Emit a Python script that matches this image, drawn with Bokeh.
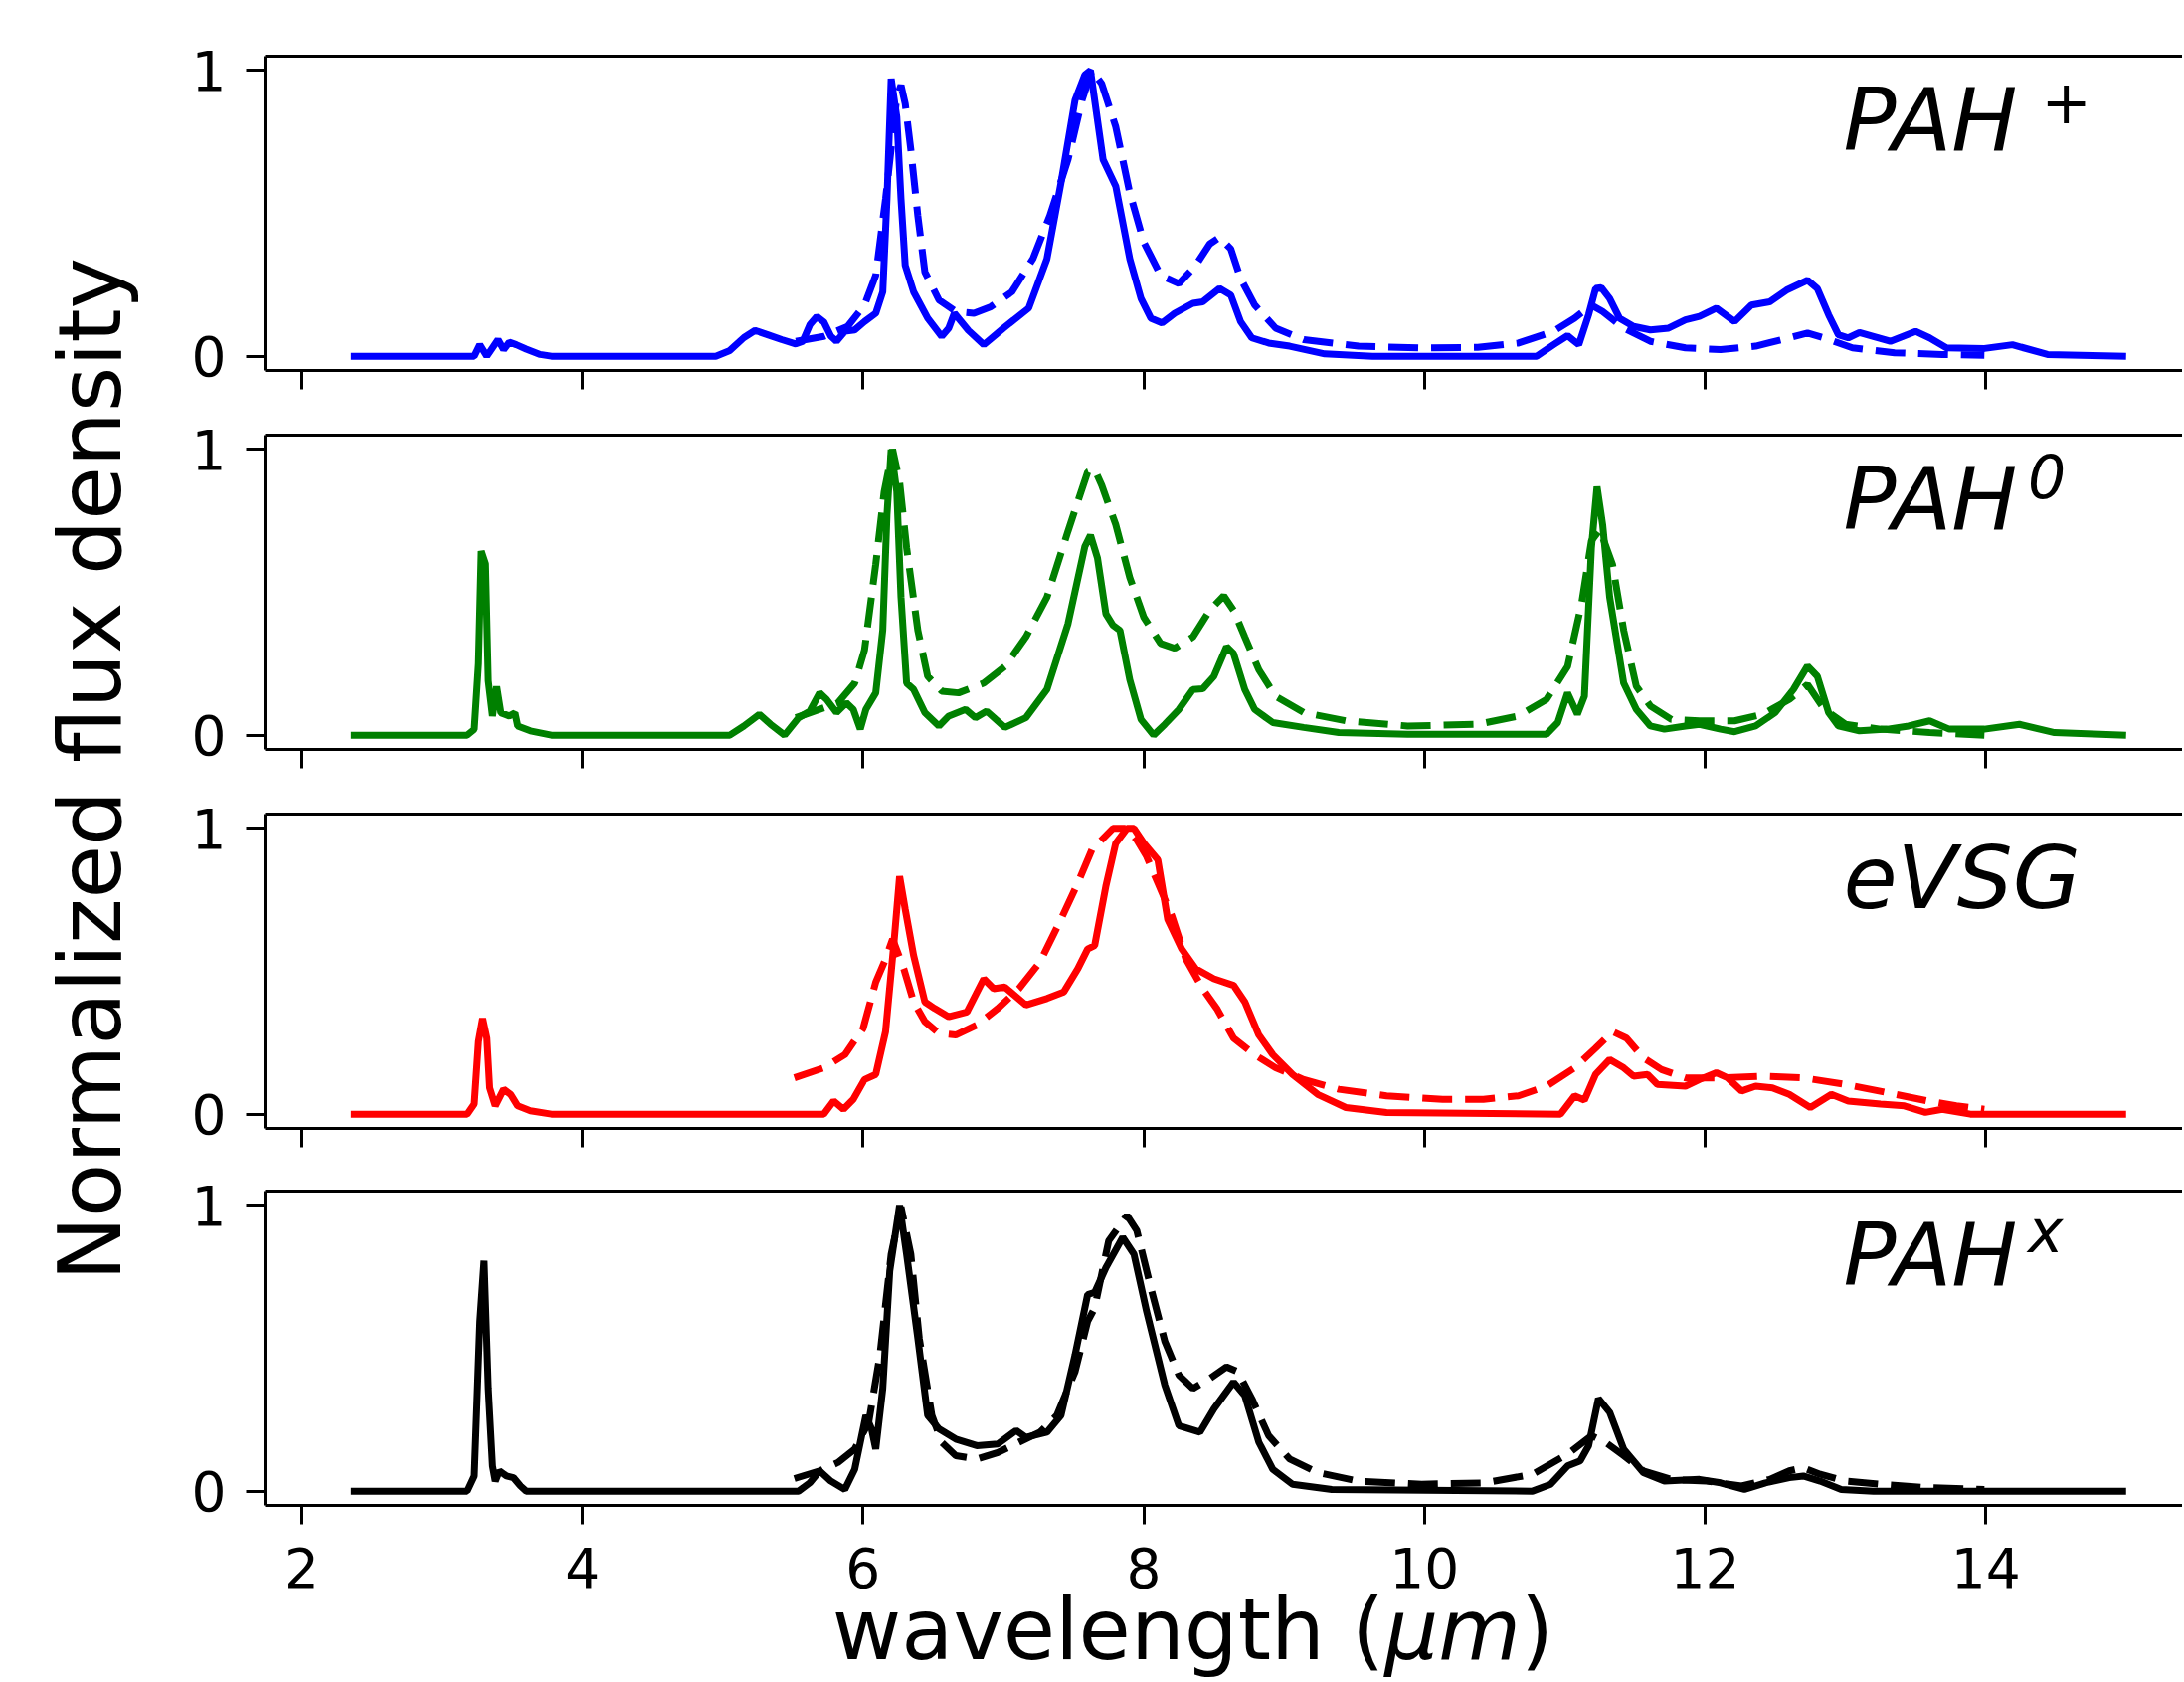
import math
from bokeh.plotting import figure
from bokeh.models import Range1d, FixedTicker, LinearAxis, Label, CustomJSTickFormatter
from bokeh.layouts import row, column
from bokeh.core.properties import value
from bokeh.embed import file_html
from bokeh.resources import INLINE

# ---------------- data ----------------
x_ticks = [2, 4, 6, 8, 10, 12, 14]
y_ticks = [0, 1]
x_label_parts = ["wavelength (", "\u03bcm", ")"]
y_label = "Normalized flux density"

# PAH+ (blue)
pahp_solid_x = [2.35, 3.23, 3.27, 3.32, 3.40, 3.44, 3.48, 3.53, 3.60, 3.70, 3.78, 4.95, 5.05, 5.15, 5.23, 5.32,
                5.42, 5.52, 5.57, 5.62, 5.67, 5.72, 5.77, 5.81, 5.87, 5.94, 6.01, 6.09, 6.14, 6.17, 6.20, 6.24,
                6.27, 6.30, 6.36, 6.46, 6.56, 6.61, 6.65, 6.75, 6.86, 7.00, 7.18, 7.31, 7.41, 7.51, 7.58, 7.62,
                7.71, 7.80, 7.90, 7.98, 8.05, 8.13, 8.22, 8.35, 8.42, 8.54, 8.62, 8.69, 8.77, 8.89, 9.04, 9.29,
                9.63, 10.80, 10.92, 11.02, 11.10, 11.17, 11.22, 11.26, 11.32, 11.39, 11.49, 11.61, 11.74, 11.86,
                11.96, 12.08, 12.21, 12.33, 12.46, 12.58, 12.73, 12.80, 12.88, 12.95, 13.02, 13.10, 13.20, 13.32,
                13.50, 13.60, 13.72, 13.99, 14.19, 14.44, 15.00]
pahp_solid_y = [0.0, 0.0, 0.04, 0.0, 0.058, 0.023, 0.049, 0.04, 0.025, 0.006, 0.0, 0.0, 0.02, 0.065, 0.09, 0.075,
                0.058, 0.043, 0.052, 0.11, 0.139, 0.12, 0.07, 0.052, 0.087, 0.092, 0.121, 0.15, 0.225, 0.55, 0.971, 0.838,
                0.55, 0.318, 0.225, 0.133, 0.069, 0.098, 0.15, 0.09, 0.04, 0.098, 0.168, 0.341, 0.607, 0.896, 0.985, 1.0,
                0.688, 0.595, 0.341, 0.202, 0.133, 0.116, 0.15, 0.185, 0.19, 0.237, 0.214, 0.121, 0.064, 0.046, 0.035, 0.008,
                0.0, 0.0, 0.04, 0.072, 0.04, 0.145, 0.237, 0.24, 0.202, 0.133, 0.104, 0.092, 0.098, 0.127,
                0.139, 0.168, 0.121, 0.179, 0.19, 0.231, 0.266, 0.237, 0.145, 0.075, 0.064, 0.083, 0.069, 0.052,
                0.087, 0.064, 0.029, 0.027, 0.04, 0.006, 0.0]
pahp_dash_x = [5.52, 5.72, 5.89, 6.01, 6.09, 6.16, 6.24, 6.27, 6.30, 6.34, 6.39, 6.44, 6.54, 6.66, 6.79, 6.91,
               7.06, 7.21, 7.33, 7.46, 7.56, 7.63, 7.70, 7.80, 7.90, 8.00, 8.12, 8.25, 8.37, 8.47, 8.54, 8.62,
               8.69, 8.79, 8.94, 9.14, 9.53, 9.98, 10.38, 10.67, 10.92, 11.07, 11.19, 11.27, 11.42, 11.61, 11.86,
               12.11, 12.36, 12.55, 12.73, 12.85, 13.05, 13.35, 13.69, 13.99]
pahp_dash_y = [0.052, 0.069, 0.104, 0.179, 0.283, 0.55, 0.907, 0.948, 0.884, 0.723, 0.491, 0.295, 0.197, 0.156, 0.15, 0.173,
               0.225, 0.341, 0.491, 0.688, 0.896, 1.0, 0.954, 0.803, 0.572, 0.399, 0.283, 0.254, 0.318, 0.393, 0.416, 0.376,
               0.272, 0.179, 0.098, 0.058, 0.035, 0.029, 0.031, 0.046, 0.087, 0.133, 0.179, 0.156, 0.098, 0.052, 0.029,
               0.023, 0.035, 0.058, 0.081, 0.064, 0.029, 0.012, 0.006, 0.003]

# PAH0 (green)
pah0_solid_x = [2.35, 3.18, 3.23, 3.26, 3.28, 3.31, 3.33, 3.36, 3.39, 3.42, 3.48, 3.52, 3.54, 3.63, 3.78, 5.05,
                5.15, 5.26, 5.34, 5.44, 5.54, 5.62, 5.69, 5.74, 5.81, 5.88, 5.93, 5.98, 6.02, 6.09, 6.14, 6.17,
                6.20, 6.24, 6.27, 6.31, 6.36, 6.44, 6.54, 6.61, 6.73, 6.80, 6.88, 7.01, 7.16, 7.31, 7.46, 7.58,
                7.62, 7.67, 7.73, 7.78, 7.83, 7.90, 7.98, 8.07, 8.15, 8.25, 8.35, 8.42, 8.50, 8.59, 8.64, 8.72,
                8.79, 8.92, 9.14, 9.39, 9.88, 10.87, 10.95, 11.02, 11.09, 11.14, 11.19, 11.23, 11.27, 11.32, 11.42,
                11.51, 11.61, 11.71, 11.86, 11.96, 12.11, 12.21, 12.36, 12.50, 12.63, 12.73, 12.80, 12.88, 12.95,
                13.10, 13.30, 13.45, 13.60, 13.74, 13.99, 14.24, 14.49, 15.00]
pah0_solid_y = [0.0, 0.0, 0.02, 0.25, 0.644, 0.6, 0.19, 0.067, 0.17, 0.078, 0.067, 0.078, 0.032, 0.015, 0.0, 0.0,
                0.032, 0.073, 0.038, 0.0, 0.061, 0.084, 0.148, 0.125, 0.079, 0.113, 0.09, 0.021, 0.09, 0.148, 0.367, 0.771,
                1.0, 0.852, 0.483, 0.182, 0.16, 0.079, 0.032, 0.067, 0.09, 0.061, 0.084, 0.027, 0.061, 0.16, 0.39, 0.66,
                0.70, 0.62, 0.425, 0.385, 0.367, 0.194, 0.055, 0.0, 0.038, 0.09, 0.16, 0.162, 0.206, 0.31, 0.286, 0.16,
                0.09, 0.044, 0.027, 0.009, 0.003, 0.003, 0.044, 0.148, 0.073, 0.136, 0.656, 0.87, 0.737, 0.483, 0.182,
                0.09, 0.032, 0.021, 0.032, 0.038, 0.021, 0.012, 0.032, 0.079, 0.16, 0.242, 0.206, 0.079, 0.032,
                0.015, 0.021, 0.032, 0.05, 0.021, 0.021, 0.038, 0.009, 0.0]
pah0_dash_x = [5.52, 5.82, 5.94, 6.01, 6.09, 6.15, 6.21, 6.26, 6.31, 6.39, 6.46, 6.56, 6.68, 6.86, 7.01, 7.16,
               7.31, 7.46, 7.60, 7.65, 7.70, 7.80, 7.90, 8.00, 8.12, 8.22, 8.35, 8.47, 8.57, 8.64, 8.72, 8.82,
               8.94, 9.14, 9.44, 9.88, 10.38, 10.67, 10.87, 11.02, 11.12, 11.19, 11.25, 11.34, 11.42, 11.51, 11.61,
               11.76, 11.96, 12.21, 12.41, 12.60, 12.73, 12.85, 13.00, 13.25, 13.60, 13.99]
pah0_dash_y = [0.061, 0.113, 0.182, 0.298, 0.598, 0.852, 1.0, 0.887, 0.656, 0.367, 0.206, 0.154, 0.148, 0.182, 0.24, 0.344,
               0.483, 0.714, 0.921, 0.93, 0.875, 0.737, 0.552, 0.413, 0.321, 0.304, 0.344, 0.437, 0.488, 0.437, 0.344, 0.229,
               0.136, 0.079, 0.05, 0.032, 0.038, 0.067, 0.125, 0.24, 0.46, 0.68, 0.72, 0.598, 0.367, 0.171, 0.102,
               0.055, 0.05, 0.05, 0.073, 0.125, 0.177, 0.09, 0.038, 0.021, 0.009, 0.0]

# eVSG (red)
evsg_solid_x = [2.35, 3.18, 3.23, 3.26, 3.29, 3.32, 3.34, 3.38, 3.44, 3.49, 3.54, 3.63, 3.78, 5.72, 5.79, 5.86,
                5.93, 6.01, 6.09, 6.16, 6.22, 6.26, 6.30, 6.36, 6.44, 6.51, 6.61, 6.74, 6.86, 6.93, 7.01, 7.16,
                7.31, 7.43, 7.53, 7.60, 7.65, 7.73, 7.80, 7.88, 7.93, 8.00, 8.10, 8.17, 8.27, 8.37, 8.50, 8.64,
                8.72, 8.82, 8.92, 9.06, 9.24, 9.44, 9.73, 10.97, 11.07, 11.14, 11.22, 11.32, 11.42, 11.49, 11.59,
                11.66, 11.86, 11.96, 12.08, 12.16, 12.26, 12.36, 12.48, 12.60, 12.75, 12.90, 13.02, 13.25, 13.42,
                13.57, 13.69, 13.89, 15.00]
evsg_solid_y = [0.0, 0.0, 0.035, 0.254, 0.335, 0.266, 0.092, 0.029, 0.087, 0.069, 0.029, 0.012, 0.0, 0.0, 0.046, 0.017,
                0.052, 0.121, 0.139, 0.289, 0.601, 0.832, 0.717, 0.555, 0.393, 0.37, 0.341, 0.358, 0.474, 0.439, 0.445, 0.382,
                0.405, 0.428, 0.509, 0.578, 0.59, 0.798, 0.948, 1.0, 1.0, 0.948, 0.89, 0.682, 0.578, 0.509, 0.474, 0.451,
                0.393, 0.277, 0.208, 0.139, 0.069, 0.023, 0.006, 0.0, 0.064, 0.049, 0.139, 0.191, 0.162, 0.133, 0.139,
                0.104, 0.098, 0.121, 0.145, 0.127, 0.081, 0.098, 0.092, 0.069, 0.023, 0.069, 0.046, 0.035, 0.029,
                0.006, 0.017, 0.0, 0.0]
evsg_dash_x = [5.51, 5.72, 5.87, 6.00, 6.09, 6.16, 6.21, 6.29, 6.36, 6.44, 6.54, 6.66, 6.81, 6.96, 7.11, 7.26,
               7.41, 7.53, 7.63, 7.70, 7.78, 7.88, 7.95, 8.02, 8.10, 8.20, 8.30, 8.42, 8.52, 8.64, 8.79, 8.94,
               9.14, 9.39, 9.73, 10.13, 10.42, 10.67, 10.87, 11.07, 11.22, 11.34, 11.44, 11.56, 11.69, 11.86, 12.11,
               12.41, 12.70, 13.00, 13.30, 13.59, 13.79, 13.99]
evsg_dash_y = [0.127, 0.162, 0.208, 0.3, 0.462, 0.543, 0.613, 0.509, 0.393, 0.324, 0.283, 0.277, 0.312, 0.37, 0.439, 0.532,
               0.682, 0.809, 0.925, 0.96, 1.0, 1.0, 0.96, 0.902, 0.809, 0.694, 0.543, 0.439, 0.37, 0.266, 0.208, 0.162,
               0.121, 0.087, 0.064, 0.052, 0.052, 0.064, 0.098, 0.162, 0.231, 0.289, 0.266, 0.197, 0.156, 0.127, 0.127,
               0.133, 0.127, 0.104, 0.075, 0.046, 0.029, 0.017]

# PAHx (black)
pahx_solid_x = [2.35, 3.18, 3.23, 3.27, 3.30, 3.33, 3.36, 3.38, 3.41, 3.46, 3.51, 3.56, 3.60, 5.54, 5.62, 5.69,
                5.77, 5.87, 5.94, 6.02, 6.06, 6.09, 6.14, 6.19, 6.26, 6.31, 6.39, 6.46, 6.54, 6.66, 6.81, 6.96,
                7.09, 7.16, 7.31, 7.41, 7.51, 7.60, 7.65, 7.73, 7.85, 7.93, 8.02, 8.15, 8.25, 8.40, 8.50, 8.64,
                8.72, 8.82, 8.92, 9.06, 9.34, 10.77, 10.90, 11.02, 11.11, 11.17, 11.24, 11.32, 11.42, 11.56, 11.71,
                11.96, 12.11, 12.28, 12.43, 12.60, 12.70, 12.82, 12.97, 13.20, 15.00]
pahx_solid_y = [0.0, 0.0, 0.053, 0.594, 0.806, 0.359, 0.088, 0.035, 0.071, 0.053, 0.047, 0.018, 0.0, 0.0, 0.029, 0.071,
                0.035, 0.006, 0.076, 0.265, 0.218, 0.147, 0.359, 0.771, 1.0, 0.829, 0.535, 0.265, 0.218, 0.182, 0.159, 0.165,
                0.212, 0.188, 0.206, 0.265, 0.476, 0.688, 0.695, 0.782, 0.888, 0.829, 0.629, 0.371, 0.229, 0.206, 0.288, 0.382,
                0.335, 0.171, 0.076, 0.024, 0.006, 0.0, 0.024, 0.088, 0.106, 0.159, 0.324, 0.276, 0.147, 0.065, 0.035,
                0.041, 0.029, 0.006, 0.029, 0.047, 0.053, 0.035, 0.006, 0.0, 0.0]
pahx_dash_x = [5.51, 5.69, 5.82, 5.94, 6.04, 6.12, 6.20, 6.27, 6.34, 6.40, 6.49, 6.56, 6.66, 6.81, 6.96, 7.11,
               7.26, 7.38, 7.51, 7.60, 7.65, 7.75, 7.88, 7.95, 8.05, 8.15, 8.25, 8.35, 8.47, 8.59, 8.67, 8.77,
               8.89, 9.04, 9.24, 9.53, 9.98, 10.43, 10.77, 11.02, 11.19, 11.29, 11.42, 11.56, 11.76, 12.01, 12.26,
               12.46, 12.60, 12.70, 12.82, 13.00, 13.25, 13.59, 13.99]
pahx_dash_y = [0.044, 0.071, 0.1, 0.147, 0.241, 0.476, 0.829, 0.994, 0.829, 0.535, 0.265, 0.171, 0.124, 0.112, 0.135, 0.171,
               0.206, 0.265, 0.418, 0.594, 0.641, 0.876, 0.965, 0.912, 0.712, 0.524, 0.406, 0.359, 0.394, 0.435, 0.418, 0.324,
               0.194, 0.112, 0.065, 0.035, 0.024, 0.029, 0.059, 0.129, 0.194, 0.171, 0.124, 0.071, 0.041, 0.035, 0.018,
               0.041, 0.071, 0.082, 0.059, 0.035, 0.024, 0.012, 0.006]

panel_colors = ["#0000ff", "#008000", "#ff0000", "#000000"]
panel_names = ["PAH", "PAH", "eVSG", "PAH"]
panel_sups = ["+", "0", "", "x"]
solid_series = [(pahp_solid_x, pahp_solid_y), (pah0_solid_x, pah0_solid_y),
                (evsg_solid_x, evsg_solid_y), (pahx_solid_x, pahx_solid_y)]
dash_series = [(pahp_dash_x, pahp_dash_y), (pah0_dash_x, pah0_dash_y),
               (evsg_dash_x, evsg_dash_y), (pahx_dash_x, pahx_dash_y)]

# ---------------- layout ----------------
FONT = "DejaVu Sans"
YLAB_W = 150
PANEL_W = 2044
TOT_W = YLAB_W + PANEL_W
TOT_H = 1690
FRAME_H = 316
tops = [56, 25, 25, 23]
bottoms = [40, 40, 40, 24]
LEFT_B = 116
PX_PER_UNIT = 141.1
X0_DATA = 1.738                      # data value at the frame's left edge
XR = (X0_DATA, X0_DATA + (PANEL_W - LEFT_B) / PX_PER_UNIT)
YR = (-0.05, 1.05)
LW = 7
MID = 0.37                            # middle of text above the alphabetic baseline, in em

panels = []
for i in range(4):
    h = tops[i] + FRAME_H + bottoms[i]
    p = figure(width=PANEL_W, height=h, x_range=Range1d(*XR), y_range=Range1d(*YR),
               output_backend="svg", toolbar_location=None, title=None,
               min_border_left=LEFT_B, min_border_right=0,
               min_border_top=tops[i], min_border_bottom=bottoms[i])
    p.xgrid.visible = False
    p.ygrid.visible = False
    p.outline_line_color = None

    for ax in (p.xaxis[0], p.yaxis[0]):
        ax.axis_line_width = 3
        ax.axis_line_color = "black"
        ax.major_tick_line_width = 3
        ax.major_tick_out = 19
        ax.major_tick_in = 0
        ax.minor_tick_line_color = None
        ax.major_label_text_font = FONT
        ax.major_label_text_font_size = "55px"
        ax.major_label_text_color = "black"
    p.xaxis.ticker = FixedTicker(ticks=x_ticks)
    p.yaxis.ticker = FixedTicker(ticks=y_ticks)
    p.yaxis.major_label_standoff = 20
    # x tick labels are drawn in the strip below (shared x scale)
    p.xaxis.formatter = CustomJSTickFormatter(code="return ''")
    p.xaxis.major_label_text_font_size = "1px"
    p.xaxis.major_label_standoff = 0

    top_ax = LinearAxis(ticker=FixedTicker(ticks=[]), axis_line_width=3, axis_line_color="black",
                        major_tick_out=0, major_tick_in=0, minor_tick_line_color=None,
                        major_label_text_font_size="1px")
    p.add_layout(top_ax, "above")

    sx, sy = solid_series[i]
    dx, dy = dash_series[i]
    col = panel_colors[i]
    p.line(sx, sy, line_color=col, line_width=LW)
    p.line(dx, dy, line_color=col, line_width=LW, line_dash="30 13")

    px_per_y = FRAME_H / (YR[1] - YR[0])
    p.add_layout(Label(x=12.985, y=YR[1] - (97 - MID * 88) / px_per_y, text=panel_names[i], text_font=FONT,
                       text_font_style="italic", text_font_size="88px", text_color="black",
                       text_align="left", text_baseline="middle"))
    if panel_sups[i] == "+":
        p.add_layout(Label(x=14.395, y=YR[1] - 44.5 / px_per_y, text="+", text_font=FONT,
                           text_font_style="italic", text_font_size="60px", text_color="black",
                           text_align="left", text_baseline="middle"))
    elif panel_sups[i]:
        p.add_layout(Label(x=14.30, y=YR[1] - (63 - MID * 60) / px_per_y, text=panel_sups[i], text_font=FONT,
                           text_font_style="italic", text_font_size="60px", text_color="black",
                           text_align="left", text_baseline="middle"))
    panels.append(p)

panel_col_h = sum(tops) + 4 * FRAME_H + sum(bottoms)
XFIG_H = TOT_H - panel_col_h

# y label figure (left strip)
yfig = figure(width=YLAB_W, height=panel_col_h, x_range=Range1d(0, YLAB_W), y_range=Range1d(0, panel_col_h),
              output_backend="svg", toolbar_location=None, title=None, min_border=0)
yfig.axis.visible = False
yfig.xgrid.visible = False
yfig.ygrid.visible = False
yfig.outline_line_color = None
yfig.add_layout(Label(x=90, y=panel_col_h - 773, text=y_label, angle=math.pi / 2, text_font=FONT,
                      text_font_size="87px", text_color="black", text_align="center",
                      text_baseline="middle"))

# bottom strip: x tick labels (same x scale as the panels) and the x axis label
xs_left = X0_DATA - (YLAB_W + LEFT_B) / PX_PER_UNIT
xfig = figure(width=TOT_W, height=XFIG_H,
              x_range=Range1d(xs_left, xs_left + TOT_W / PX_PER_UNIT), y_range=Range1d(0, XFIG_H),
              output_backend="svg", toolbar_location=None, title=None, min_border=0)
xfig.axis.visible = False
xfig.xgrid.visible = False
xfig.ygrid.visible = False
xfig.outline_line_color = None
tick_baseline_page = 1596            # page y of the tick digits' baseline
tick_baseline_from_top = tick_baseline_page - panel_col_h
xfig.text(x=x_ticks, y=[XFIG_H - tick_baseline_from_top + MID * 55] * len(x_ticks),
          text=[str(t) for t in x_ticks],
          text_font=value(FONT), text_font_size="55px", text_color="black",
          text_align="center", text_baseline="middle")

fs = 85
w1 = 6.534 * fs
w2 = 1.61 * fs
w3 = 0.39 * fs
x0 = 1199 - (w1 + w2 + w3) / 2
label_baseline_from_bottom = 21
styles = ["normal", "italic", "normal"]
offs = [0, w1, w1 + w2]
for txt, st, off in zip(x_label_parts, styles, offs):
    xfig.add_layout(Label(x=x0 + off, y=label_baseline_from_bottom + MID * fs,
                          x_units="screen", y_units="screen", text=txt,
                          text_font=FONT, text_font_style=st,
                          text_font_size=f"{fs}px", text_color="black",
                          text_align="left", text_baseline="middle"))

layout = column(row(yfig, column(*panels, spacing=0), spacing=0), xfig, spacing=0)
open("out.html", "w").write(file_html(layout, INLINE))
